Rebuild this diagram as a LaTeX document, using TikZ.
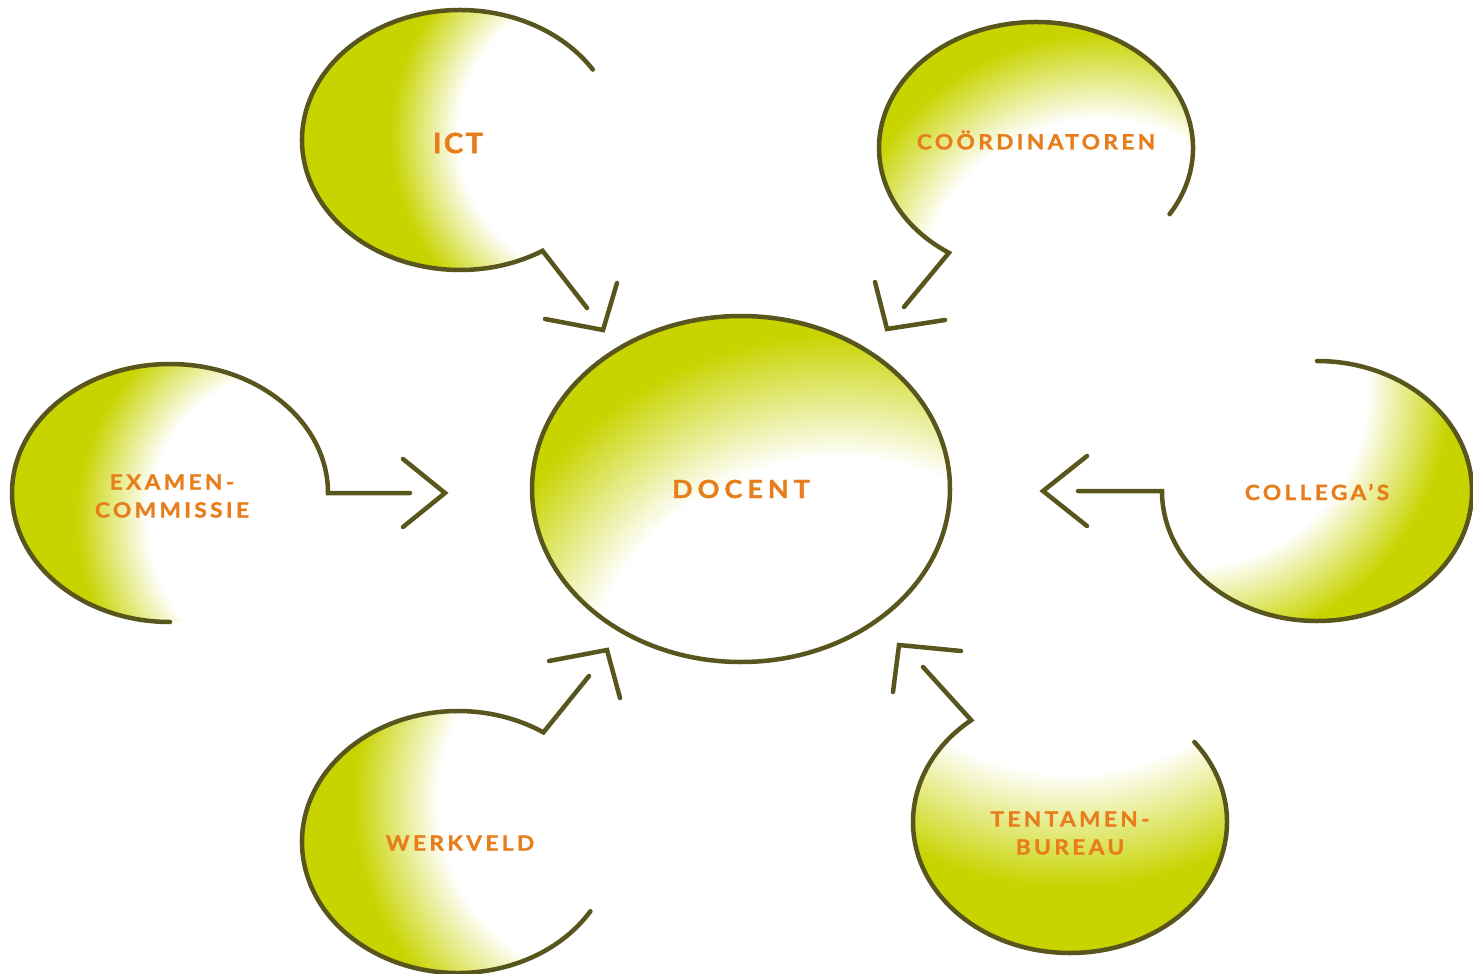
\documentclass[tikz,border=0pt]{standalone}
\usepackage{fontspec}
\setmainfont{Lato}
\usetikzlibrary{shapes.geometric,calc}
\definecolor{bubgreen}{RGB}{200,212,0}
\definecolor{bubline}{RGB}{88,86,28}
\definecolor{bubtext}{RGB}{232,125,28}
\pgfdeclareradialshading{bubshade}{\pgfpoint{0bp}{0bp}}{color(0bp)=(white); color(7.4bp)=(white); color(10.9bp)=(bubgreen); color(50bp)=(bubgreen)}
% #1 ellipse centre, #2 #3 radii, #4 #5 centre of the white spot, #6 size R
\newcommand\bubfill[6]{%
  \begin{scope}
    \clip (#1) ellipse[x radius=#2,y radius=#3];
    \shade[shading=bubshade] (#4,#5) circle[radius=2*#6];
  \end{scope}}
\begin{document}
\begin{tikzpicture}[x=1pt,y=-1pt,
  edge/.style={draw=bubline,line width=4.5pt,line cap=round,line join=miter},
  lbl/.style={text=bubtext,align=center,inner sep=0pt,
    font=\bfseries\fontsize{21}{28}\selectfont\addfontfeature{LetterSpace=16,FakeStretch=1.08,FakeBold=1.2}}]
\useasboundingbox (0,0) rectangle (1473,974);

% centres of the bubbles
\coordinate (ictC) at (460,140);
\coordinate (coC)  at (1036,148);
\coordinate (exC)  at (170,493);
\coordinate (clC)  at (1317,491);
\coordinate (wkC)  at (458,842);
\coordinate (tbC)  at (1070,822);
\coordinate (dcC)  at (741,489);

% shadings
\bubfill{ictC}{158}{130}{600}{135}{240}
\bubfill{coC}{157}{126}{1100}{300}{305}
\bubfill{exC}{158}{129}{300}{520}{257}
\bubfill{clC}{155}{130}{1190}{390}{298}
\bubfill{wkC}{156}{131}{620}{800}{306}
\bubfill{tbC}{157}{131}{1070}{530}{410}
\bubfill{dcC}{209}{173}{840}{720}{443}

% central node
\node[ellipse,draw=bubline,line width=4.5pt,minimum width=418pt,minimum height=346pt,
  inner sep=0pt,text=bubtext,font=\bfseries\fontsize{25}{30}\selectfont\addfontfeature{LetterSpace=20,FakeStretch=1.08,FakeBold=1.2}]
  (docent) at (dcC) {\raisebox{-2pt}{DOCENT}};

% arrow end points
\coordinate (ictS) at (587,308);
\coordinate (ictA) at (545,319); \coordinate (ictV) at (603,330); \coordinate (ictB) at (617,283);
\coordinate (coS) at (904,307);
\coordinate (coA) at (875,282); \coordinate (coV) at (887,329); \coordinate (coB) at (945,320);
\coordinate (exS) at (410,493);
\coordinate (exA) at (403,459); \coordinate (exV) at (445,493); \coordinate (exB) at (403,527);
\coordinate (clS) at (1078,491);
\coordinate (clA) at (1087,456); \coordinate (clV) at (1043,491); \coordinate (clB) at (1087,526);
\coordinate (wkS) at (589,676);
\coordinate (wkA) at (549,661); \coordinate (wkV) at (607,650); \coordinate (wkB) at (620,698);
\coordinate (tbS) at (923,667);
\coordinate (tbA) at (961,651); \coordinate (tbV) at (899,645); \coordinate (tbB) at (893,692);

% bubble outlines with shafts
\draw[edge] ($(ictC)+(-32.8:158 and 130)$) arc[start angle=-32.8,end angle=-301.5,x radius=158,y radius=130] -- (ictS);
\draw[edge] ($(coC)+(31.7:157 and 126)$) arc[start angle=31.7,end angle=-236.3,x radius=157,y radius=126] -- (coS);
\draw[edge] ($(exC)+(90:158 and 129)$) arc[start angle=90,end angle=360,x radius=158,y radius=129] -- (exS);
\draw[edge] ($(clC)+(-90:155 and 130)$) arc[start angle=-90,end angle=180,x radius=155,y radius=130] -- (clS);
\draw[edge] ($(wkC)+(31.9:156 and 131)$) arc[start angle=31.9,end angle=303.2,x radius=156,y radius=131] -- (wkS);
\draw[edge] ($(tbC)+(-37.6:157 and 131)$) arc[start angle=-37.6,end angle=231,x radius=157,y radius=131] -- (tbS);

% arrow heads
\draw[edge] (ictA) -- (ictV) -- (ictB);
\draw[edge] (coA) -- (coV) -- (coB);
\draw[edge] (exA) -- (exV) -- (exB);
\draw[edge] (clA) -- (clV) -- (clB);
\draw[edge] (wkA) -- (wkV) -- (wkB);
\draw[edge] (tbA) -- (tbV) -- (tbB);

% labels
\node[lbl,font=\bfseries\fontsize{28}{30}\selectfont\addfontfeature{LetterSpace=8,FakeStretch=1.05,FakeBold=1.2}] (ict) at (458,143) {ICT};
\node[lbl] (coord) at (1036,140) {COÖRDINATOREN};
\node[lbl] (exam) at (172,496) {EXAMEN-\\COMMISSIE};
\node[lbl] (coll) at (1317,492) {COLLEGA’S};
\node[lbl] (werk) at (460,843) {WERKVELD};
\node[lbl] (tent) at (1070,833) {TENTAMEN-\\BUREAU};
\end{tikzpicture}
\end{document}
